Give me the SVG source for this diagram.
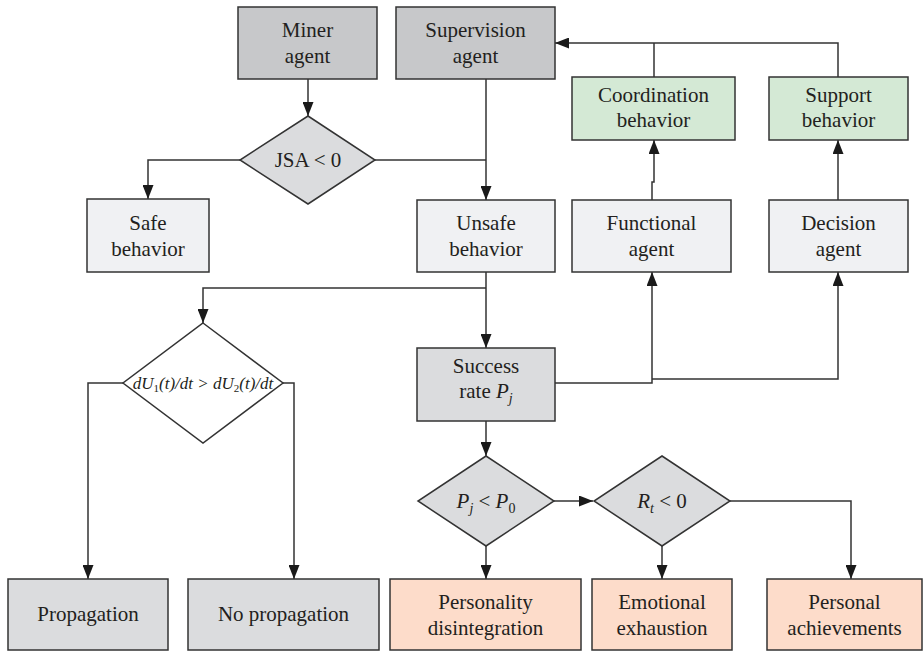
<svg xmlns="http://www.w3.org/2000/svg" width="924" height="652" viewBox="0 0 924 652">
<style>
  .box { stroke: #333; stroke-width: 1.5; }
  .dark { fill: #c7c8ca; }
  .mid { fill: #dbdcde; }
  .light { fill: #f0f1f3; }
  .green { fill: #d4e9d5; }
  .salmon { fill: #fddcca; }
  .white { fill: #ffffff; }
  text { font-family: "Liberation Serif", "Times New Roman", serif; font-size: 21px; fill: #231f20; text-anchor: middle; }
  .it { font-style: italic; }
  .small { font-size: 17px; font-style: italic; }
  .conn { fill: none; stroke: #333; stroke-width: 1.5; }
</style>
<defs>
  <marker id="arr" markerUnits="userSpaceOnUse" markerWidth="14" markerHeight="11" refX="14" refY="5.5" orient="auto">
    <path d="M0,0 L14,5.5 L0,11 z" fill="#1a1a1a"/>
  </marker>
</defs>

<g id="connectors">
  <path class="conn" d="M308,79 V116" marker-end="url(#arr)"/>
  <path class="conn" d="M240,160 H148 V199" marker-end="url(#arr)"/>
  <path class="conn" d="M375,160 H486"/>
  <path class="conn" d="M486,79 V200" marker-end="url(#arr)"/>
  <path class="conn" d="M654,77 V43"/>
  <path class="conn" d="M838,77 V43 H555" marker-end="url(#arr)"/>
  <path class="conn" d="M652,200 V182 H654 V140" marker-end="url(#arr)"/>
  <path class="conn" d="M838,200 V140" marker-end="url(#arr)"/>
  <path class="conn" d="M486,272 V348" marker-end="url(#arr)"/>
  <path class="conn" d="M486,288 H203 V323" marker-end="url(#arr)"/>
  <path class="conn" d="M123,383 H88 V579" marker-end="url(#arr)"/>
  <path class="conn" d="M283,383 H294 V579" marker-end="url(#arr)"/>
  <path class="conn" d="M555,383 H652 V272" marker-end="url(#arr)"/>
  <path class="conn" d="M652,379 H838 V272" marker-end="url(#arr)"/>
  <path class="conn" d="M486,421 V456" marker-end="url(#arr)"/>
  <path class="conn" d="M554,501 H593" marker-end="url(#arr)"/>
  <path class="conn" d="M486,546 V579" marker-end="url(#arr)"/>
  <path class="conn" d="M662,546 V579" marker-end="url(#arr)"/>
  <path class="conn" d="M730,501 H851 V579" marker-end="url(#arr)"/>
</g>

<g id="miner-agent">
  <rect class="box dark" x="238" y="7" width="139" height="72"/>
  <text x="307.5" y="37">Miner</text>
  <text x="307.5" y="63">agent</text>
</g>
<g id="supervision-agent">
  <rect class="box dark" x="396" y="7" width="159" height="72"/>
  <text x="475.5" y="37">Supervision</text>
  <text x="475.5" y="63">agent</text>
</g>
<g id="coordination-behavior">
  <rect class="box green" x="572" y="77" width="163" height="63"/>
  <text x="653.5" y="102">Coordination</text>
  <text x="653.5" y="127">behavior</text>
</g>
<g id="support-behavior">
  <rect class="box green" x="769" y="77" width="139" height="63"/>
  <text x="838.5" y="102">Support</text>
  <text x="838.5" y="127">behavior</text>
</g>
<g id="jsa-decision">
  <polygon class="box mid" points="308,116 375,160 308,204 240,160"/>
  <text x="308" y="167">JSA &lt; 0</text>
</g>
<g id="safe-behavior">
  <rect class="box light" x="87" y="199" width="122" height="73"/>
  <text x="148" y="230">Safe</text>
  <text x="148" y="256">behavior</text>
</g>
<g id="unsafe-behavior">
  <rect class="box light" x="417" y="200" width="138" height="72"/>
  <text x="486" y="230">Unsafe</text>
  <text x="486" y="256">behavior</text>
</g>
<g id="functional-agent">
  <rect class="box light" x="572" y="200" width="159" height="72"/>
  <text x="651.5" y="230">Functional</text>
  <text x="651.5" y="256">agent</text>
</g>
<g id="decision-agent">
  <rect class="box light" x="769" y="200" width="139" height="72"/>
  <text x="838.5" y="230">Decision</text>
  <text x="838.5" y="256">agent</text>
</g>
<g id="du-decision">
  <polygon class="box white" points="203,323 283,383 203,443 123,383"/>
  <text class="small" x="203" y="389">dU<tspan font-size="11" dy="3" font-style="normal">1</tspan><tspan dy="-3">(t)/dt &gt; dU</tspan><tspan font-size="11" dy="3" font-style="normal">2</tspan><tspan dy="-3">(t)/dt</tspan></text>
</g>
<g id="success-rate">
  <rect class="box mid" x="417" y="348" width="138" height="73"/>
  <text x="486" y="373">Success</text>
  <text x="486" y="398">rate <tspan class="it">P</tspan><tspan class="it" font-size="14" dy="5">j</tspan></text>
</g>
<g id="pj-decision">
  <polygon class="box mid" points="486,456 554,501 486,546 418,501"/>
  <text x="486" y="508"><tspan class="it">P</tspan><tspan class="it" font-size="14" dy="5">j</tspan><tspan dy="-5"> &lt; </tspan><tspan class="it">P</tspan><tspan font-size="14" dy="5">0</tspan></text>
</g>
<g id="rt-decision">
  <polygon class="box mid" points="662,456 730,501 662,546 594,501"/>
  <text x="662" y="508"><tspan class="it">R</tspan><tspan class="it" font-size="14" dy="5">t</tspan><tspan dy="-5"> &lt; 0</tspan></text>
</g>
<g id="propagation">
  <rect class="box mid" x="8" y="579" width="160" height="71"/>
  <text x="88" y="621">Propagation</text>
</g>
<g id="no-propagation">
  <rect class="box mid" x="188" y="579" width="191" height="71"/>
  <text x="283.5" y="621">No propagation</text>
</g>
<g id="personality-disintegration">
  <rect class="box salmon" x="390" y="579" width="191" height="71"/>
  <text x="485.5" y="609">Personality</text>
  <text x="485.5" y="635">disintegration</text>
</g>
<g id="emotional-exhaustion">
  <rect class="box salmon" x="592" y="579" width="140" height="71"/>
  <text x="662" y="609">Emotional</text>
  <text x="662" y="635">exhaustion</text>
</g>
<g id="personal-achievements">
  <rect class="box salmon" x="767" y="579" width="155" height="71"/>
  <text x="844.5" y="609">Personal</text>
  <text x="844.5" y="635">achievements</text>
</g>
</svg>
